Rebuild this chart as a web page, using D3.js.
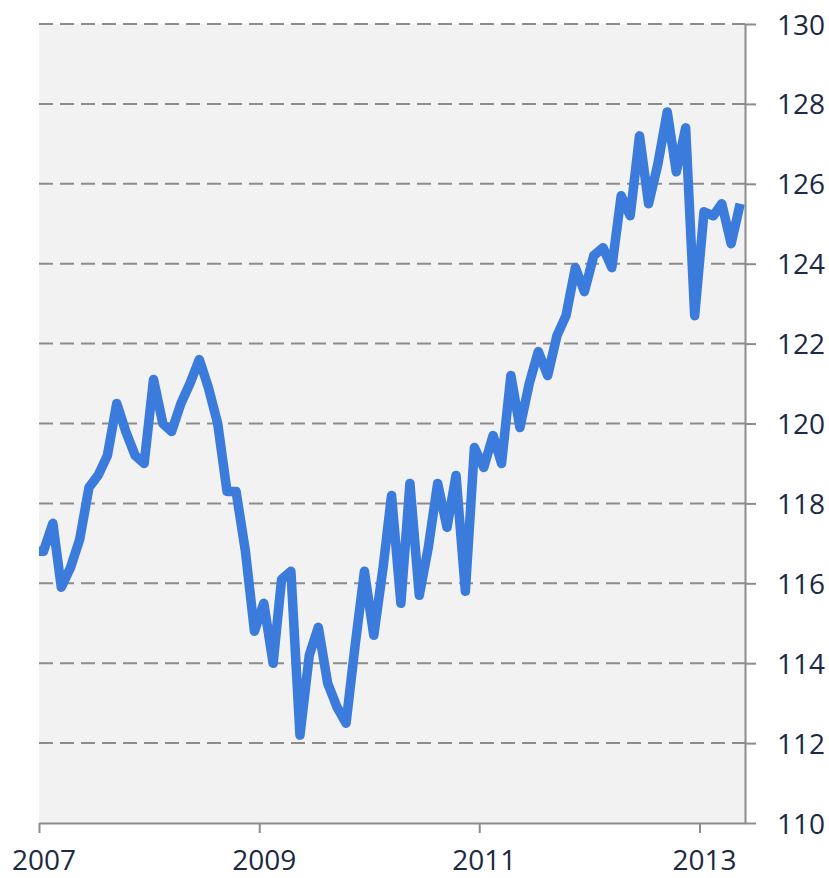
<!DOCTYPE html>
<html>
<head>
<meta charset="utf-8">
<script src="https://cdn.jsdelivr.net/npm/d3@7"></script>
<style>
  body { margin: 0; background: #fff; }
  text { font-family: "Open Sans", "DejaVu Sans", sans-serif; }
</style>
</head>
<body>
<svg id="chart" width="829" height="878"></svg>
<script>
// monthly index values, one array per year (first point is Dec 2006, clipped at the edge)
var v2006 = [116.8];
var v2007 = [116.8, 117.5, 115.9, 116.4, 117.1, 118.4, 118.7, 119.2, 120.5, 119.8, 119.2, 119.0];
var v2008 = [121.1, 120.0, 119.8, 120.5, 121.0, 121.6, 120.9, 120.0, 118.3, 118.3, 116.8, 114.8];
var v2009 = [115.5, 114.0, 116.1, 116.3, 112.2, 114.2, 114.9, 113.5, 112.9, 112.5, 114.5, 116.3];
var v2010 = [114.7, 116.4, 118.2, 115.5, 118.5, 115.7, 116.9, 118.5, 117.4, 118.7, 115.8, 119.4];
var v2011 = [118.9, 119.7, 119.0, 121.2, 119.9, 121.0, 121.8, 121.2, 122.2, 122.7, 123.9, 123.3];
var v2012 = [124.2, 124.4, 123.9, 125.7, 125.2, 127.2, 125.5, 126.5, 127.8, 126.3, 127.4, 122.7];
var v2013 = [125.3, 125.2, 125.5, 124.5, 125.5];

var yTicks = [110, 112, 114, 116, 118, 120, 122, 124, 126, 128, 130];
var yearTicks = [2007, 2009, 2011, 2013];

var values = [].concat(v2006, v2007, v2008, v2009, v2010, v2011, v2012, v2013);
var data = values.map(function(v, i) {
  return { date: new Date(2006, 11 + i, 16), value: v };
});

var svg = d3.select("svg#chart"),
    plotL = 39, plotR = 745, plotT = 24, plotB = 823;

var x = d3.scaleTime()
    .domain([new Date(2007, 0, 1), new Date(2013, 5, 1)])
    .range([plotL, plotR]);

var y = d3.scaleLinear()
    .domain([110, 130])
    .range([plotB, plotT]);

var gridColor = "#8c8c8c",
    textColor = "#1b2946";

svg.append("rect")
    .attr("x", plotL).attr("y", plotT)
    .attr("width", plotR - plotL).attr("height", plotB - plotT)
    .attr("fill", "#f2f2f2");

svg.append("clipPath").attr("id", "plot-clip")
  .append("rect")
    .attr("x", plotL).attr("y", plotT - 10)
    .attr("width", plotR - plotL).attr("height", plotB - plotT + 20);

// dashed horizontal gridlines
svg.append("g").selectAll("line")
  .data(yTicks.filter(function(d) { return d > 110; }))
  .enter().append("line")
    .attr("x1", plotL).attr("x2", plotR)
    .attr("y1", function(d) { return y(d); })
    .attr("y2", function(d) { return y(d); })
    .attr("stroke", gridColor)
    .attr("stroke-width", 2)
    .attr("stroke-dasharray", "14,7");

var line = d3.line()
    .x(function(d) { return x(d.date); })
    .y(function(d) { return y(d.value); });

svg.append("path")
    .datum(data)
    .attr("clip-path", "url(#plot-clip)")
    .attr("fill", "none")
    .attr("stroke", "#3b7bdb")
    .attr("stroke-width", 9.5)
    .attr("stroke-linejoin", "round")
    .attr("d", line);

// right value axis
var yAxis = svg.append("g")
    .attr("transform", "translate(" + plotR + ",0)")
    .call(d3.axisRight(y).tickValues(yTicks).tickSize(11).tickPadding(21).tickSizeOuter(0));

// bottom time axis, labels sit on the middle of January like the original
var xAxis = svg.append("g")
    .attr("transform", "translate(0," + plotB + ")")
    .call(d3.axisBottom(x)
          .tickValues(yearTicks.map(function(yr) { return new Date(yr, 0, 1); }))
          .tickFormat(d3.timeFormat("%Y"))
          .tickSize(10).tickPadding(17).tickSizeOuter(0));

[yAxis, xAxis].forEach(function(ax) {
  ax.select(".domain").attr("stroke", gridColor).attr("stroke-width", 2);
  ax.selectAll(".tick line").attr("stroke", gridColor).attr("stroke-width", 2);
  ax.selectAll(".tick text")
    .attr("fill", textColor)
    .style("font-size", "28px");
});

yAxis.selectAll(".tick text").attr("dy", "0.36em");
xAxis.selectAll(".tick text").attr("x", 4.5);
</script>
</body>
</html>
